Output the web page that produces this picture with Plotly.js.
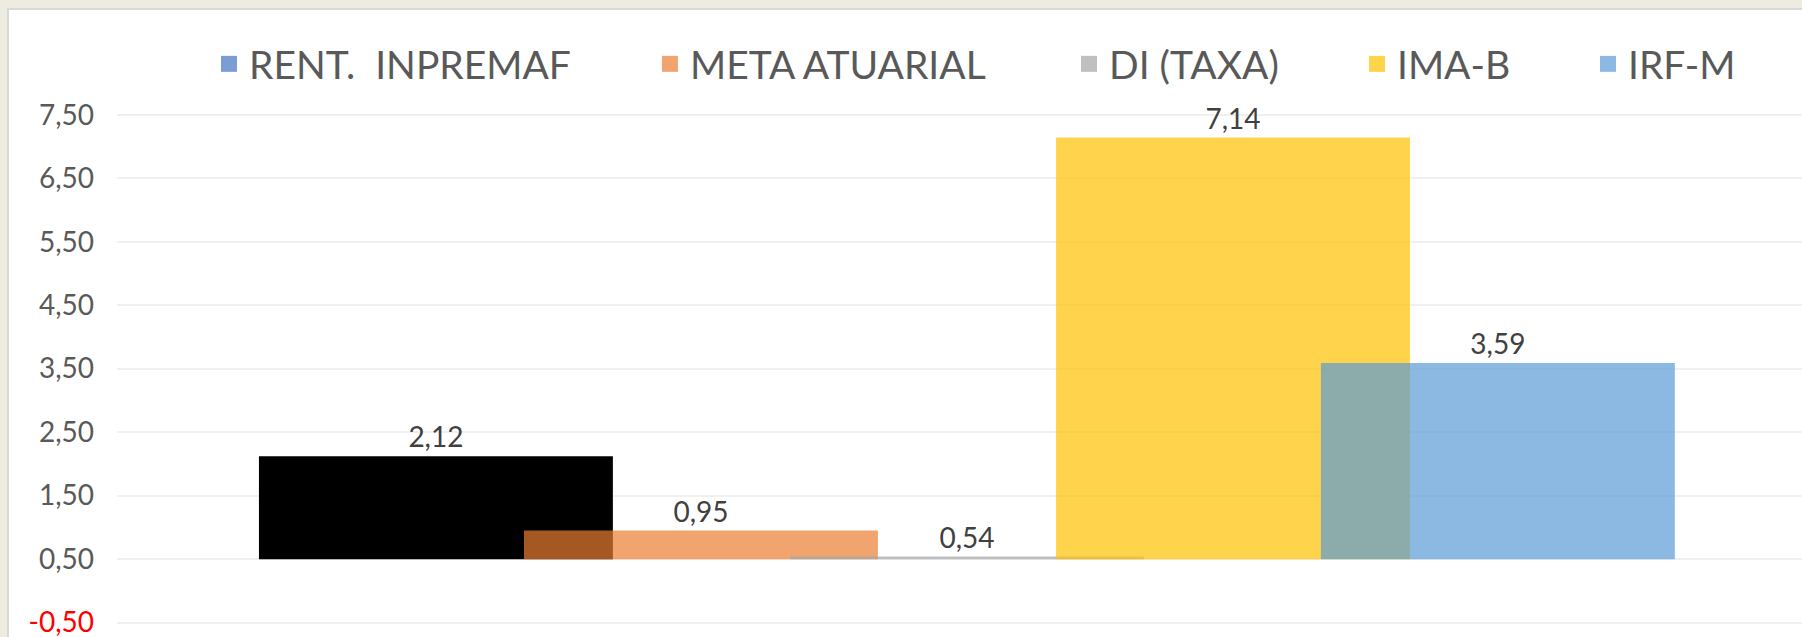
<!DOCTYPE html>
<html>
<head>
<meta charset="utf-8">
<script src="https://cdn.plot.ly/plotly-3.0.1.min.js"></script>
<style>
  html, body { margin: 0; padding: 0; background: #EEEBE0; width: 1802px; height: 637px; overflow: hidden; }
  #frame { position: absolute; left: 7px; top: 8px; border-left: 2px solid #D9D9D9; border-top: 2px solid #D9D9D9; background: #FFFFFF; width: 1793px; height: 627px; }
  #chart { width: 1793px; height: 627px; }
</style>
</head>
<body>
<div id="frame"><div id="chart"></div></div>
<script>
// ---- data ----
var seriesNames = ['RENT.  INPREMAF', 'META ATUARIAL', 'DI (TAXA)', 'IMA-B', 'IRF-M'];
var seriesValues = [2.12, 0.95, 0.54, 7.14, 3.59];
var baseValue = 0.5;
var yTickVals = [-0.5, 0.5, 1.5, 2.5, 3.5, 4.5, 5.5, 6.5, 7.5];
var yTickText = ['<span style="color:#FF0000;font-size:28px">-0,50</span>', '0,50', '1,50', '2,50', '3,50', '4,50', '5,50', '6,50', '7,50'];

// ---- styles ----
var barColors = ['#000000', 'rgba(237,125,49,0.7)', 'rgba(165,165,165,0.7)', 'rgba(255,192,0,0.7)', 'rgba(91,155,213,0.7)'];
var legendColors = ['#7C9CD6', '#F2A46F', '#C0C0C0', '#FFD34C', '#8CB9E2'];
var barOffsets = [-0.4165, -0.2606, -0.1041, 0.0524, 0.2082];
var barWidth = 0.2082;
var legendX = [0.0546, 0.3163, 0.5650, 0.7359, 0.8730];
var legendIds = ['legend', 'legend2', 'legend3', 'legend4', 'legend5'];
var FONT = 'Lato, "Open Sans", sans-serif';

function fmt(v) { return v.toFixed(2).replace('.', ','); }

var traces = [];
seriesNames.forEach(function (name, i) {
  traces.push({
    type: 'bar',
    x: [0],
    y: [seriesValues[i] - baseValue],
    base: [baseValue],
    width: [barWidth],
    offset: [barOffsets[i]],
    marker: { color: barColors[i], line: { width: 0 } },
    text: [fmt(seriesValues[i])],
    textposition: 'outside',
    textfont: { family: FONT, size: 28, color: '#404040' },
    cliponaxis: false,
    showlegend: false,
    name: name,
    hoverinfo: 'skip'
  });
});
seriesNames.forEach(function (name, i) {
  traces.push({
    type: 'scatter',
    mode: 'markers',
    x: [null],
    y: [null],
    name: name,
    legend: legendIds[i],
    marker: { symbol: 'square', size: 16, color: legendColors[i] },
    showlegend: true,
    hoverinfo: 'skip'
  });
});

var layout = {
  width: 1793,
  height: 627,
  margin: { l: 108, r: 0, t: 92, b: 8 },
  paper_bgcolor: '#FFFFFF',
  plot_bgcolor: '#FFFFFF',
  barmode: 'overlay',
  font: { family: FONT, color: '#595959' },
  xaxis: {
    range: [-0.5, 0.4912],
    showgrid: false, zeroline: false, showline: false,
    showticklabels: false, ticks: '', fixedrange: true
  },
  yaxis: {
    range: [-0.6, 7.7],
    tickvals: yTickVals,
    ticktext: yTickText,
    showgrid: true,
    gridcolor: '#F0F0F0',
    gridwidth: 2,
    zeroline: false,
    showline: false,
    ticks: '',
    ticklabelstandoff: 22,
    ticklabeloverflow: 'allow',
    tickfont: { family: FONT, size: 28, color: '#595959' },
    fixedrange: true
  },
  showlegend: true
};
legendIds.forEach(function (id, i) {
  layout[id] = {
    orientation: 'h',
    x: legendX[i],
    xanchor: 'left',
    y: 1.0721,
    yanchor: 'middle',
    bgcolor: 'rgba(0,0,0,0)',
    borderwidth: 0,
    font: { family: FONT, size: 39, color: '#595959' }
  };
});

Plotly.newPlot('chart', traces, layout, { staticPlot: true, displayModeBar: false });
</script>
</body>
</html>
